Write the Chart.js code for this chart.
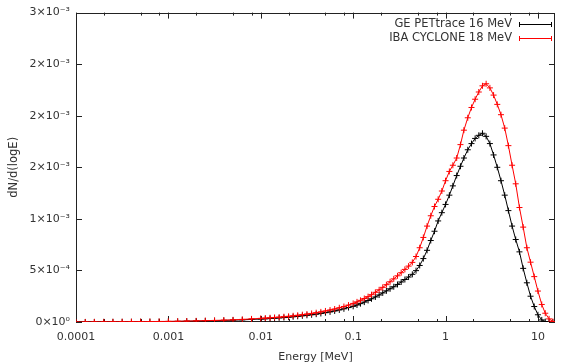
<!DOCTYPE html>
<html>
<head>
<meta charset="utf-8">
<script src="https://cdn.jsdelivr.net/npm/chart.js@4/dist/chart.umd.min.js"></script>
<style>
  html, body { margin: 0; padding: 0; background: #fff; }
  #wrap { width: 562px; height: 364px; }
</style>
</head>
<body>
<div id="wrap"><canvas id="spectrum"></canvas></div>
<script>
// energy bins (MeV), shared by both spectra
const energies = [
  0.0001, 0.000126, 0.000158, 0.0002, 0.000251, 0.000316, 0.000398, 0.000501, 0.000631, 0.000794,
  0.001, 0.00126, 0.00158, 0.002, 0.00251, 0.00316, 0.00398, 0.00501, 0.00631, 0.00794,
  0.01, 0.0112, 0.0126, 0.0141, 0.0158, 0.0178, 0.02, 0.0224, 0.0251, 0.0282,
  0.0316, 0.0355, 0.0398, 0.0447, 0.0501, 0.0562, 0.0631, 0.0708, 0.0794, 0.0891,
  0.1, 0.11, 0.12, 0.132, 0.145, 0.158, 0.174, 0.191, 0.209, 0.229,
  0.251, 0.275, 0.302, 0.331, 0.363, 0.398, 0.437, 0.479, 0.525, 0.575,
  0.631, 0.692, 0.759, 0.832, 0.912, 1.0, 1.1, 1.2, 1.32, 1.45,
  1.58, 1.74, 1.91, 2.09, 2.29, 2.51, 2.75, 3.02, 3.31, 3.63,
  3.98, 4.37, 4.79, 5.25, 5.75, 6.31, 6.92, 7.59, 8.32, 9.12,
  10.0, 11.0, 12.0, 13.2, 14.5
];

// dN/d(logE), GE PETtrace 16 MeV
const geValues = [
  0, 0.0000004, 0.0000008, 0.0000012, 0.0000016, 0.000002, 0.0000025, 0.000003, 0.0000035, 0.000004,
  0.000005, 0.000006, 0.0000075, 0.000009, 0.000011, 0.000013, 0.000015, 0.000018, 0.000021, 0.000025,
  0.000029, 0.000031, 0.000034, 0.000037, 0.00004, 0.000043, 0.000047, 0.000051, 0.000055, 0.00006,
  0.000065, 0.00007, 0.000076, 0.000083, 0.00009, 0.000098, 0.000107, 0.000117, 0.000128, 0.00014,
  0.000152, 0.000165, 0.000178, 0.000193, 0.000209, 0.000225, 0.000243, 0.000262, 0.000282, 0.000302,
  0.000322, 0.000342, 0.000364, 0.000388, 0.000412, 0.000436, 0.000462, 0.000498, 0.000548, 0.000615,
  0.000695, 0.00079, 0.00088, 0.00098, 0.00106, 0.00114, 0.00123, 0.00132, 0.00142, 0.00151,
  0.00159, 0.00167, 0.00173, 0.00178, 0.00181, 0.00183, 0.0018, 0.00173, 0.00162, 0.0015,
  0.00137, 0.00123, 0.00108, 0.00093, 0.0008, 0.00068, 0.00052, 0.00038, 0.00025, 0.00015,
  0.00007, 0.00002, 0.000004, 0, 0
];

// dN/d(logE), IBA CYCLONE 18 MeV
const ibaValues = [
  0, 0.0000005, 0.000001, 0.0000015, 0.000002, 0.0000025, 0.000003, 0.0000035, 0.000004, 0.000005,
  0.000006, 0.000007, 0.000009, 0.000011, 0.000013, 0.000015, 0.000018, 0.000021, 0.000025, 0.00003,
  0.000035, 0.000038, 0.000041, 0.000044, 0.000047, 0.000051, 0.000055, 0.00006, 0.000065, 0.000071,
  0.000077, 0.000083, 0.00009, 0.000098, 0.000107, 0.000116, 0.000126, 0.000138, 0.00015, 0.000164,
  0.00018, 0.000195, 0.00021, 0.000228, 0.000246, 0.000265, 0.000288, 0.000312, 0.000336, 0.000362,
  0.00039, 0.000418, 0.000448, 0.000478, 0.00051, 0.000542, 0.000578, 0.000635, 0.00072, 0.00082,
  0.00093, 0.00103, 0.00112, 0.00119, 0.00127, 0.00137, 0.00146, 0.00152, 0.00159, 0.00172,
  0.00186, 0.00198, 0.00208, 0.00216, 0.00223, 0.00229, 0.00231, 0.00227, 0.0022, 0.00211,
  0.00201, 0.00188, 0.00171, 0.00152, 0.00134, 0.00111, 0.00092, 0.00072, 0.00058, 0.00044,
  0.0003, 0.00017, 0.000085, 0.00003, 0.000005
];

const seriesNames = ["GE PETtrace 16 MeV", "IBA CYCLONE 18 MeV"];
const seriesColors = ["#000000", "#ff0000"];

const xTicks = [0.0001, 0.001, 0.01, 0.1, 1, 10];
const xTickLabels = ["0.0001", "0.001", "0.01", "0.1", "1", "10"];
const xMinorSteps = [2, 5, 8];

const yTicks = [0, 0.0005, 0.001, 0.0015, 0.002, 0.0025, 0.003];
const yTickLabels = ["0×10⁰", "5×10⁻⁴", "1×10⁻³", "2×10⁻³", "2×10⁻³", "2×10⁻³", "3×10⁻³"];

const FONT = "'DejaVu Sans', sans-serif";

function points(values) {
  return energies.map((e, i) => ({ x: e, y: values[i] }));
}

// gnuplot-like frame with inward ticks on all four sides
const frameTicks = {
  id: "frameTicks",
  beforeDatasetsDraw(chart) {
    const { ctx, chartArea: a, scales } = chart;
    const x = scales.x, y = scales.y;
    ctx.save();
    ctx.strokeStyle = "#222";
    ctx.lineWidth = 1;
    ctx.strokeRect(Math.round(a.left) + 0.5, Math.round(a.top) + 0.5,
      Math.round(a.right - a.left) - 1, Math.round(a.bottom - a.top) - 1);
    ctx.beginPath();
    const tickX = (v, len) => {
      const px = Math.round(x.getPixelForValue(v)) + 0.5;
      ctx.moveTo(px, a.bottom); ctx.lineTo(px, a.bottom - len);
      ctx.moveTo(px, a.top); ctx.lineTo(px, a.top + len);
    };
    xTicks.forEach(v => {
      tickX(v, 6);
      xMinorSteps.forEach(m => { if (v * m < x.max) tickX(v * m, 3); });
    });
    yTicks.forEach(v => {
      const py = Math.round(y.getPixelForValue(v)) + 0.5;
      ctx.moveTo(a.left, py); ctx.lineTo(a.left + 6, py);
      ctx.moveTo(a.right, py); ctx.lineTo(a.right - 6, py);
    });
    ctx.stroke();
    ctx.restore();
  }
};

// key in the top right corner: title then an error-bar sample
const keyBox = {
  id: "keyBox",
  afterDraw(chart) {
    const { ctx } = chart;
    ctx.save();
    ctx.font = "11.5px " + FONT;
    ctx.textAlign = "right";
    ctx.textBaseline = "middle";
    seriesNames.forEach((name, i) => {
      const yy = 24 + i * 14;
      ctx.fillStyle = "#333";
      ctx.fillText(name, 512, yy);
      ctx.strokeStyle = seriesColors[i];
      ctx.lineWidth = 1;
      ctx.beginPath();
      ctx.moveTo(519, yy + 0.5); ctx.lineTo(552, yy + 0.5);
      ctx.moveTo(519.5, yy - 2); ctx.lineTo(519.5, yy + 3);
      ctx.moveTo(551.5, yy - 2); ctx.lineTo(551.5, yy + 3);
      ctx.stroke();
    });
    ctx.restore();
  }
};

new Chart(document.getElementById("spectrum"), {
  type: "line",
  data: {
    datasets: [
      {
        label: seriesNames[0],
        data: points(geValues),
        borderColor: seriesColors[0],
        backgroundColor: seriesColors[0],
        borderWidth: 1,
        pointStyle: "cross",
        pointRadius: 3,
        pointBorderWidth: 1,
        order: 2
      },
      {
        label: seriesNames[1],
        data: points(ibaValues),
        borderColor: seriesColors[1],
        backgroundColor: seriesColors[1],
        borderWidth: 1,
        pointStyle: "cross",
        pointRadius: 3,
        pointBorderWidth: 1,
        order: 1
      }
    ]
  },
  options: {
    responsive: true,
    maintainAspectRatio: false,
    animation: false,
    layout: { padding: { top: 11, right: 7, left: 0, bottom: 0 } },
    plugins: {
      legend: { display: false },
      tooltip: { enabled: false }
    },
    scales: {
      x: {
        type: "logarithmic",
        min: 0.0001,
        max: 15.3,
        afterBuildTicks(scale) { scale.ticks = xTicks.map(v => ({ value: v })); },
        afterFit(scale) { scale.height = 42; },
        grid: { display: false, drawTicks: false },
        border: { display: false },
        ticks: {
          autoSkip: false,
          maxRotation: 0,
          padding: 9,
          color: "#333",
          font: { family: FONT, size: 11 },
          callback: (v) => {
            const i = xTicks.indexOf(v);
            return i >= 0 ? xTickLabels[i] : "";
          }
        },
        title: {
          display: true,
          text: "Energy [MeV]",
          color: "#333",
          font: { family: FONT, size: 11 },
          padding: { top: 4, bottom: 0 }
        }
      },
      y: {
        type: "linear",
        min: 0,
        max: 0.003,
        afterBuildTicks(scale) { scale.ticks = yTicks.map(v => ({ value: v })); },
        afterFit(scale) { scale.width = 76; },
        grid: { display: false, drawTicks: false },
        border: { display: false },
        ticks: {
          autoSkip: false,
          padding: 6,
          color: "#333",
          font: { family: FONT, size: 11 },
          callback: (v) => {
            const i = yTicks.indexOf(v);
            return i >= 0 ? yTickLabels[i] : "";
          }
        },
        title: {
          display: true,
          text: "dN/d(logE)",
          color: "#333",
          font: { family: FONT, size: 11.5 },
          padding: { top: 7, bottom: 0 }
        }
      }
    }
  },
  plugins: [frameTicks, keyBox]
});
</script>
</body>
</html>
